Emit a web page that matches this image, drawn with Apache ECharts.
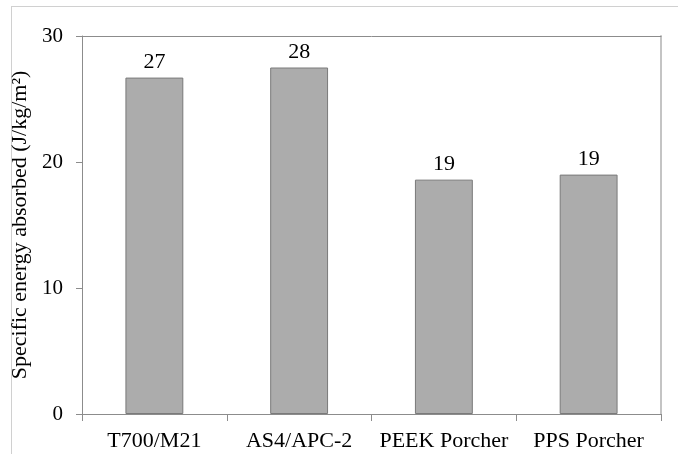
<!DOCTYPE html>
<html>
<head>
<meta charset="utf-8">
<script src="https://cdn.jsdelivr.net/npm/echarts@6/dist/echarts.min.js"></script>
<style>
html,body{margin:0;padding:0;background:#fff;overflow:hidden;}
#frame{position:absolute;left:11px;top:6px;width:800px;height:600px;border:1px solid #d0d0d0;box-sizing:border-box;}
#chart{position:absolute;left:0;top:0;width:678px;height:454px;}
</style>
</head>
<body>
<div id="frame"></div>
<div id="chart"></div>
<script>
const categories = ['T700/M21', 'AS4/APC-2', 'PEEK Porcher', 'PPS Porcher'];
const energyValues = [26.7, 27.5, 18.6, 19.0];
const yTicks = { min: 0, max: 30, interval: 10 };
const yAxisName = 'Specific energy absorbed (J/kg/m²)';

const font = 'Liberation Serif, Times New Roman, serif';
const chart = echarts.init(document.getElementById('chart'));
chart.setOption({
  animation: false,
  grid: { left: 82, right: 17, top: 36, bottom: 40 },
  xAxis: [{
    type: 'category',
    data: categories,
    axisLine: { lineStyle: { color: '#8c8c8c', width: 1 } },
    axisTick: { show: true, interval: 0, alignWithLabel: false, length: 7, lineStyle: { color: '#8c8c8c' } },
    axisLabel: { interval: 0, hideOverlap: false, color: '#000', fontFamily: font, fontSize: 22, margin: 16 }
  }, {
    type: 'category',
    position: 'top',
    data: categories,
    axisLine: { show: true, onZero: false, lineStyle: { color: '#8c8c8c', width: 1 } },
    axisTick: { show: false },
    axisLabel: { show: false }
  }],
  yAxis: [{
    type: 'value',
    min: yTicks.min, max: yTicks.max, interval: yTicks.interval,
    name: yAxisName,
    nameLocation: 'middle',
    nameGap: 44,
    nameTextStyle: { color: '#000', fontFamily: font, fontSize: 22 },
    axisLine: { show: true, lineStyle: { color: '#8c8c8c', width: 1 } },
    axisTick: { show: true, length: 6, lineStyle: { color: '#8c8c8c' } },
    axisLabel: { color: '#000', fontFamily: font, fontSize: 21, margin: 19 },
    splitLine: { show: false }
  }, {
    type: 'value',
    position: 'right',
    min: yTicks.min, max: yTicks.max, interval: yTicks.interval,
    axisLine: { show: true, lineStyle: { color: '#c4c4c4', width: 2 } },
    axisTick: { show: false },
    axisLabel: { show: false },
    splitLine: { show: false }
  }],
  series: [{
    type: 'bar',
    data: energyValues,
    barWidth: '40%',
    itemStyle: { color: '#acacac', borderColor: '#7a7a7a', borderWidth: 1 },
    label: {
      show: true,
      position: 'top',
      distance: 4,
      color: '#000',
      fontFamily: font,
      fontSize: 22,
      formatter: p => String(Math.round(p.value))
    }
  }]
});
</script>
</body>
</html>
